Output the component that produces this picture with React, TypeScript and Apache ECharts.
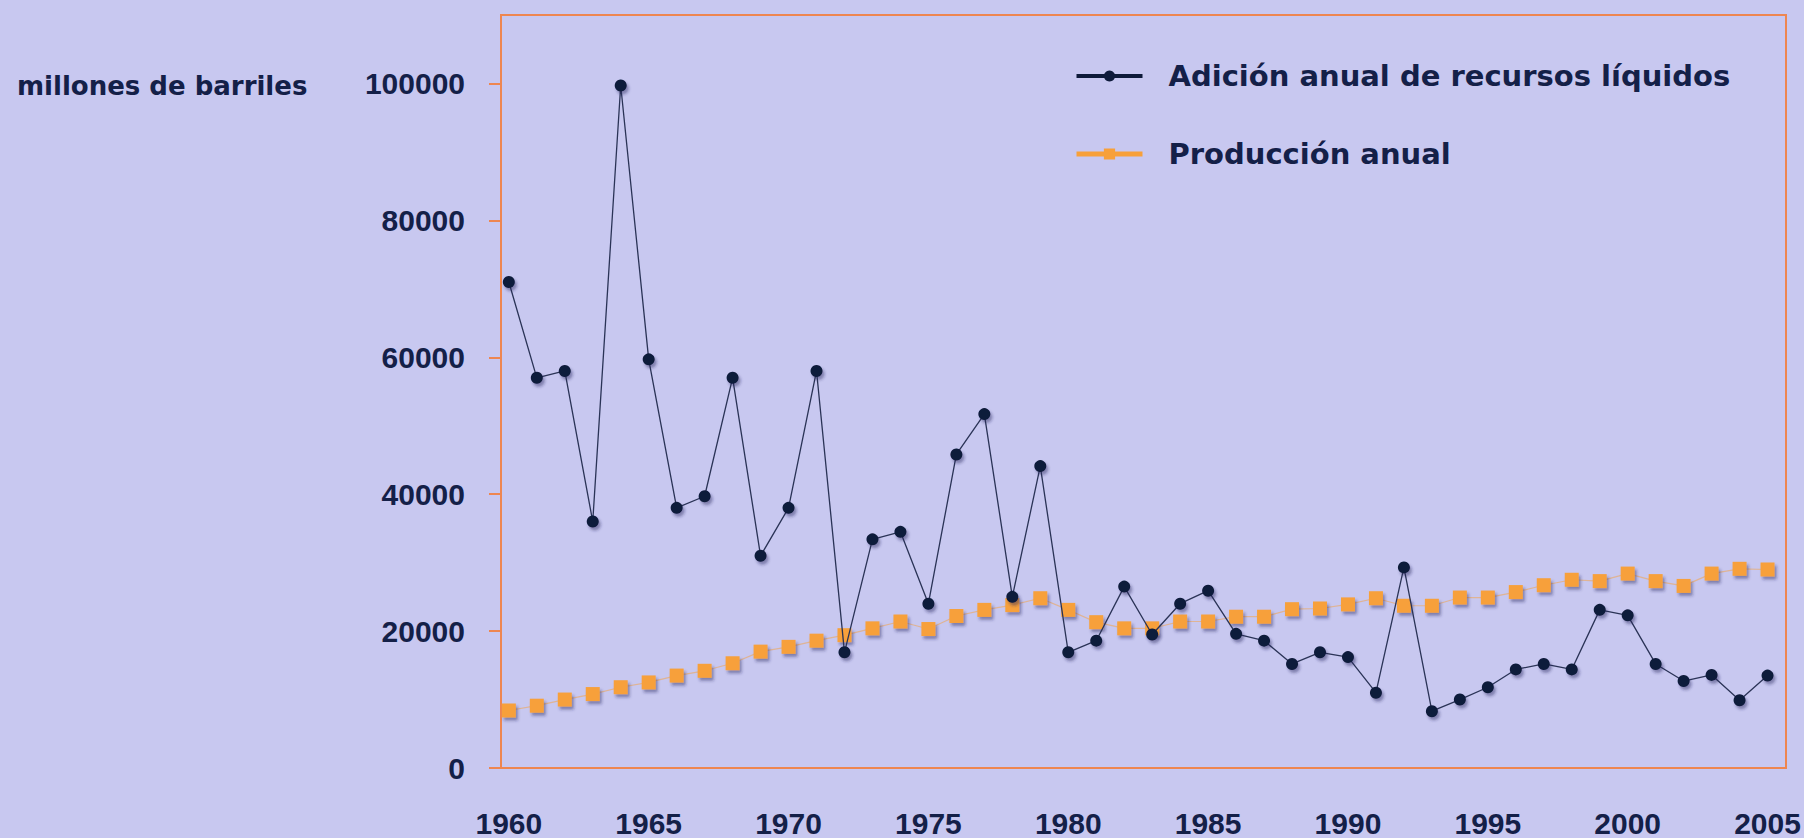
import React, { useEffect, useRef } from "react";
import * as echarts from "echarts";

const years = [
  1960, 1961, 1962, 1963, 1964, 1965, 1966, 1967, 1968, 1969,
  1970, 1971, 1972, 1973, 1974, 1975, 1976, 1977, 1978, 1979,
  1980, 1981, 1982, 1983, 1984, 1985, 1986, 1987, 1988, 1989,
  1990, 1991, 1992, 1993, 1994, 1995, 1996, 1997, 1998, 1999,
  2000, 2001, 2002, 2003, 2004, 2005,
];

const adicion = [
  71000, 57000, 58000, 36000, 99700, 59700, 38000, 39700, 57000, 31000,
  38000, 58000, 16900, 33400, 34500, 24000, 45800, 51700, 25000, 44100,
  16900, 18600, 26500, 19500, 24000, 25900, 19600, 18600, 15200, 16900,
  16200, 11000, 29300, 8300, 10000, 11800, 14400, 15200, 14400, 23100,
  22300, 15200, 12700, 13600, 9900, 13500,
];

const produccion = [
  8400, 9100, 10000, 10800, 11800, 12500, 13500, 14200, 15300, 17000,
  17700, 18600, 19400, 20400, 21400, 20300, 22200, 23100, 23800, 24800,
  23100, 21300, 20400, 20400, 21400, 21400, 22100, 22100, 23200, 23300,
  23900, 24800, 23700, 23700, 24900, 24900, 25700, 26700, 27500, 27300,
  28400, 27300, 26600, 28400, 29100, 29000,
];

const xTicks = [1960, 1965, 1970, 1975, 1980, 1985, 1990, 1995, 2000, 2005];
const yTicks = [0, 20000, 40000, 60000, 80000, 100000];

const seriesNames = ["Adición anual de recursos líquidos", "Producción anual"];
const unitLabel = "millones de barriles";

const NAVY = "#142048";
const ORANGE_BORDER = "#ee8650";
const ORANGE = "#f7a03a";
const DARK = "#0e1a3a";

export default function App() {
  const ref = useRef<HTMLDivElement>(null);

  useEffect(() => {
    const chart = echarts.init(ref.current!, null, { renderer: "svg" });
    const shadow = {
      shadowColor: "rgba(40,40,90,0.45)",
      shadowBlur: 3,
      shadowOffsetX: 2,
      shadowOffsetY: 3,
    };
    chart.setOption({
      animation: false,
      backgroundColor: "#c8c8f0",
      grid: {
        left: 501,
        right: 18,
        top: 15,
        bottom: 67,
        show: true,
        borderColor: ORANGE_BORDER,
        borderWidth: 2,
        backgroundColor: "transparent",
      },
      legend: {
        orient: "vertical",
        left: 1074,
        top: 61,
        padding: 0,
        itemWidth: 66,
        itemHeight: 14,
        itemGap: 48,
        selectedMode: false,
        textStyle: {
          fontFamily: "DejaVu Sans",
          fontWeight: "bold",
          fontSize: 29,
          lineHeight: 30,
          color: NAVY,
          padding: [0, 0, 0, 21],
        },
        data: [
          {
            name: seriesNames[0],
            lineStyle: { width: 4, color: DARK, opacity: 1 },
            itemStyle: { color: DARK },
          },
          {
            name: seriesNames[1],
            lineStyle: { width: 5, color: ORANGE, opacity: 1 },
            itemStyle: { color: ORANGE },
          },
        ],
      },
      xAxis: {
        type: "value",
        min: 1959.72,
        max: 2005.66,
        splitLine: { show: false },
        axisLine: { show: true, lineStyle: { color: ORANGE_BORDER, width: 2 } },
        axisTick: { show: false },
        axisLabel: {
          customValues: xTicks,
          formatter: (v: number) => String(Math.round(v)),
          fontFamily: "Liberation Sans",
          fontWeight: "bold",
          fontSize: 30,
          color: NAVY,
          margin: 40,
        },
      },
      yAxis: {
        type: "value",
        min: 0,
        max: 110000,
        splitLine: { show: false },
        axisLine: { show: true, lineStyle: { color: ORANGE_BORDER, width: 2 } },
        axisTick: {
          show: true,
          customValues: yTicks,
          length: 12,
          lineStyle: { color: ORANGE_BORDER, width: 2 },
        },
        axisLabel: {
          customValues: yTicks,
          formatter: (v: number) => String(Math.round(v)),
          fontFamily: "Liberation Sans",
          fontWeight: "bold",
          fontSize: 30,
          color: NAVY,
          margin: 36,
        },
      },
      graphic: [
        {
          type: "text",
          x: 17,
          y: 86,
          style: {
            text: unitLabel,
            fontFamily: "DejaVu Sans",
            fontWeight: "bold",
            fontSize: 26,
            fill: NAVY,
            align: "left",
            verticalAlign: "middle",
          },
        },
      ],
      series: [
        {
          name: seriesNames[1],
          type: "line",
          data: years.map((y, i) => [y, produccion[i]]),
          symbol: "rect",
          symbolSize: 14,
          lineStyle: { color: ORANGE, width: 1.2, opacity: 0.5 },
          itemStyle: { color: ORANGE, ...shadow },
          z: 2,
        },
        {
          name: seriesNames[0],
          type: "line",
          data: years.map((y, i) => [y, adicion[i]]),
          symbol: "circle",
          symbolSize: 12,
          lineStyle: { color: "#2a3356", width: 1.3 },
          itemStyle: { color: DARK, ...shadow },
          z: 3,
        },
      ],
    });
    return () => chart.dispose();
  }, []);

  return (
    <div
      ref={ref}
      style={{ position: "fixed", left: 0, top: 0, width: 1804, height: 838 }}
    />
  );
}
